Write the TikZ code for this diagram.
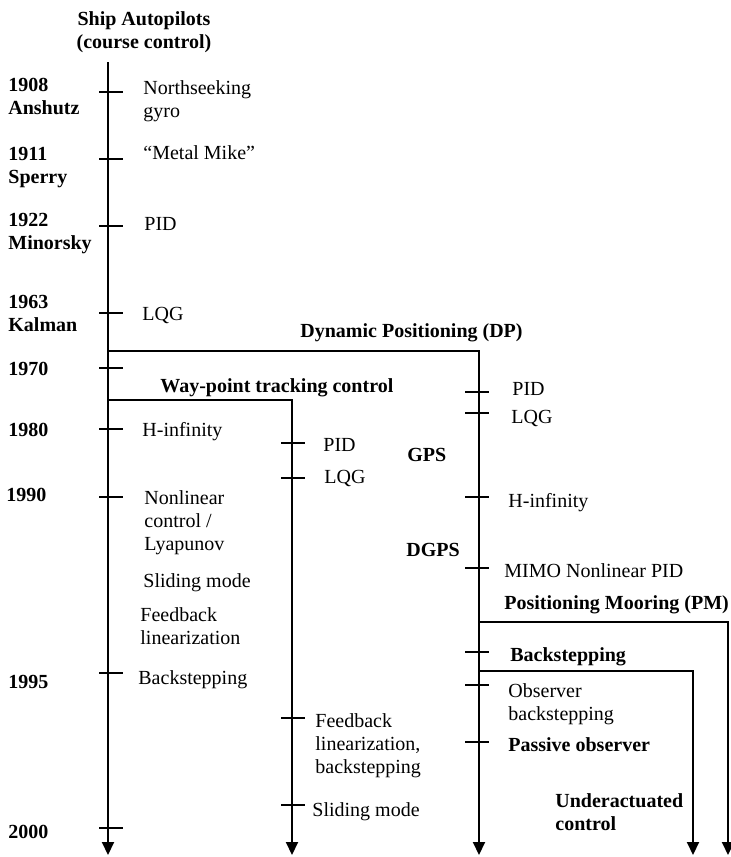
\documentclass[tikz,border=0pt]{standalone}
\usepackage{fontspec}
\setmainfont{Liberation Serif}
\usepackage{tikz}
\usetikzlibrary{arrows.meta}
\tikzset{
  axis/.style={line width=1pt, -{Triangle[length=6.5pt, width=6pt]}},
  tick/.style={line width=1pt},
  entry/.style={anchor=north west, inner sep=0pt, align=left, font=\fontsize{10}{11.5}\selectfont},
  yearlbl/.style={entry, font=\fontsize{10}{11.5}\selectfont\bfseries},
  heading/.style={entry, font=\fontsize{10}{11.5}\selectfont\bfseries}
}

\begin{document}
\begin{tikzpicture}[x=0.5pt, y=-0.5pt]
    \useasboundingbox (0,0) rectangle (730,857);

    % Ship autopilots (main axis)
    \node[heading, anchor=north, align=center] (ap) at (144,11) {Ship Autopilots\\(course control)};
    \coordinate (ap0) at (108,62);
    \coordinate (ap1) at (108,855);
    \draw[axis] (ap0) -- (ap1);
    \foreach \y in {92,159,226,313,368,429,497,673,828}
        \draw[tick] (99,\y) -- (123,\y);

    % Years
    \node[yearlbl] (y1908) at (8,78)  {1908\\Anshutz};
    \node[yearlbl] (y1911) at (8,147) {1911\\Sperry};
    \node[yearlbl] (y1922) at (8,213) {1922\\Minorsky};
    \node[yearlbl] (y1963) at (8,295) {1963\\Kalman};
    \node[yearlbl] (y1970) at (8,362) {1970};
    \node[yearlbl] (y1980) at (8,423) {1980};
    \node[yearlbl] (y1990) at (6,488) {1990};
    \node[yearlbl] (y1995) at (8,675) {1995};
    \node[yearlbl] (y2000) at (8,825) {2000};

    % Autopilot methods
    \node[entry] (gyro)    at (143,80)  {Northseeking\\gyro};
    \node[entry] (mike)    at (143,145) {“Metal Mike”};
    \node[entry] (appid)   at (144,217) {PID};
    \node[entry] (aplqg)   at (142,307) {LQG};
    \node[entry] (aphinf)  at (142,422) {H-infinity};
    \node[entry] (apnl)    at (144,490) {Nonlinear\\control /\\Lyapunov};
    \node[entry] (apsmc)   at (143,573) {Sliding mode};
    \node[entry] (apfl)    at (140,607) {Feedback\\linearization};
    \node[entry] (apbs)    at (138,670) {Backstepping};

    % Dynamic positioning
    \node[heading] (dp) at (300,323) {Dynamic Positioning (DP)};
    \coordinate (dp0) at (108,351);
    \coordinate (dp1) at (479,351);
    \coordinate (dp2) at (479,855);
    \draw[axis] (dp0) -- (dp1) -- (dp2);
    \foreach \y in {392,413,497,568,652,685,742}
        \draw[tick] (465,\y) -- (489,\y);

    \node[entry]   (dppid)  at (512,382) {PID};
    \node[entry]   (dplqg)  at (511,410) {LQG};
    \node[heading] (gps)    at (407,448) {GPS};
    \node[entry]   (dphinf) at (508,493) {H-infinity};
    \node[heading] (dgps)   at (406,543) {DGPS};
    \node[entry]   (mimo)   at (504,563) {MIMO Nonlinear PID};

    % Way-point tracking
    \node[heading] (wp) at (160,378) {Way-point tracking control};
    \coordinate (wp0) at (108,400);
    \coordinate (wp1) at (292,400);
    \coordinate (wp2) at (292,855);
    \draw[axis] (wp0) -- (wp1) -- (wp2);
    \foreach \y in {443,478,718,805}
        \draw[tick] (281,\y) -- (305,\y);

    \node[entry] (wppid) at (323,438) {PID};
    \node[entry] (wplqg) at (324,470) {LQG};
    \node[entry] (wpfl)  at (315,713) {Feedback\\linearization,\\backstepping};
    \node[entry] (wpsmc) at (312,802) {Sliding mode};

    % Positioning mooring
    \node[heading] (pm) at (504,595) {Positioning Mooring (PM)};
    \coordinate (pm0) at (479,622);
    \coordinate (pm1) at (728,622);
    \coordinate (pm2) at (728,855);
    \draw[axis] (pm0) -- (pm1) -- (pm2);

    \node[heading] (pmbs)  at (510,647) {Backstepping};
    \node[entry]   (obsbs) at (508,683) {Observer\\backstepping};
    \node[heading] (pobs)  at (508,737) {Passive observer};

    % Underactuated control
    \coordinate (ua0) at (479,671);
    \coordinate (ua1) at (693,671);
    \coordinate (ua2) at (693,855);
    \draw[axis] (ua0) -- (ua1) -- (ua2);
    \node[heading] (ua) at (555,793) {Underactuated\\control};
\end{tikzpicture}
\end{document}
